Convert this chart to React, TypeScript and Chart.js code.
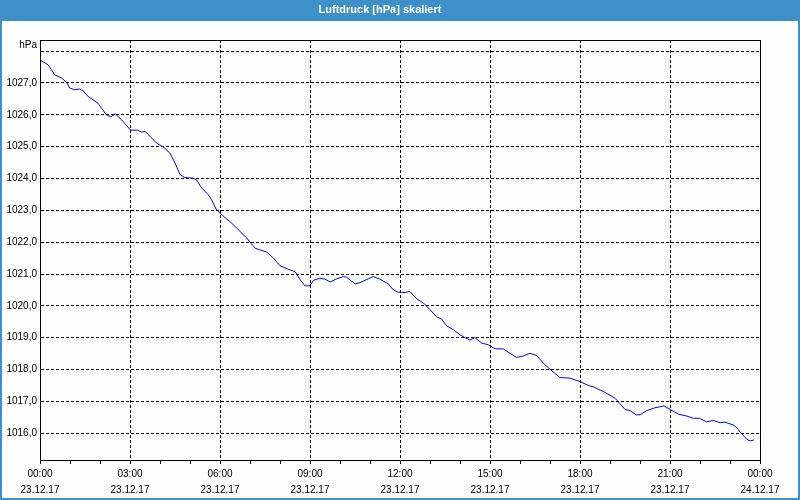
import React, { useEffect, useRef } from 'react';
import { Chart, registerables } from 'chart.js';

Chart.register(...registerables);

const chartTitle = 'Luftdruck [hPa] skaliert';
const yUnit = 'hPa';

// hours since 23.12.17 00:00
const timeHours = [
  0.02, 0.27, 0.49, 0.71, 0.88, 0.99, 1.16, 1.32, 1.43, 1.6, 1.93, 2.21, 2.36, 2.51, 2.71, 3.02, 3.24,
  3.39, 3.5, 3.67, 3.89, 4.11, 4.33, 4.5, 4.67, 4.83, 5.11, 5.22, 5.39, 5.61, 5.72, 5.87, 6.0, 6.22,
  6.33, 6.56, 6.89, 7.17, 7.33, 7.56, 7.78, 8.0, 8.33, 8.5, 8.67, 8.83, 9.0, 9.11, 9.33, 9.5, 9.67,
  9.89, 10.11, 10.22, 10.5, 10.67, 10.94, 11.11, 11.33, 11.61, 11.78, 11.94, 12.17, 12.33, 12.56,
  12.78, 13.0, 13.22, 13.39, 13.56, 13.78, 14.0, 14.17, 14.33, 14.5, 14.72, 14.94, 15.17, 15.44,
  15.67, 15.89, 16.11, 16.33, 16.56, 16.78, 17.0, 17.33, 17.67, 18.0, 18.31, 18.44, 18.78, 19.17,
  19.5, 19.67, 19.87, 20.0, 20.22, 20.5, 20.8, 21.0, 21.28, 21.56, 21.78, 21.98, 22.22, 22.44,
  22.67, 22.83, 23.11, 23.22, 23.39, 23.56, 23.67, 23.8,
];

const pressure = [
  1027.71, 1027.57, 1027.26, 1027.16, 1027.03, 1026.84, 1026.79, 1026.81, 1026.76, 1026.58, 1026.37,
  1026.0, 1025.94, 1026.03, 1025.85, 1025.52, 1025.52,
  1025.46, 1025.48, 1025.32, 1025.11, 1024.99, 1024.8, 1024.49, 1024.12, 1024.03, 1024.01, 1023.96,
  1023.7, 1023.49, 1023.33, 1023.04, 1022.91, 1022.73,
  1022.65, 1022.44, 1022.13, 1021.81, 1021.76, 1021.69, 1021.5, 1021.26, 1021.13, 1021.08, 1020.82,
  1020.63, 1020.63, 1020.8, 1020.87, 1020.84, 1020.75,
  1020.85, 1020.92, 1020.9, 1020.69, 1020.73, 1020.85, 1020.92, 1020.84, 1020.69, 1020.5, 1020.43,
  1020.42, 1020.45, 1020.22,
  1020.09, 1019.88, 1019.66, 1019.58, 1019.37, 1019.25, 1019.09, 1019.0, 1018.93, 1019.0, 1018.83,
  1018.78, 1018.65, 1018.65,
  1018.51, 1018.38, 1018.43, 1018.51, 1018.44, 1018.2, 1018.01, 1017.75, 1017.73, 1017.62, 1017.49,
  1017.46, 1017.31, 1017.1,
  1016.75, 1016.71, 1016.58, 1016.58, 1016.71, 1016.8, 1016.86, 1016.75, 1016.6, 1016.54, 1016.47,
  1016.47, 1016.36, 1016.4,
  1016.33, 1016.35, 1016.26, 1016.18, 1015.98, 1015.81, 1015.76, 1015.79,
];

const xTickHours = [0, 3, 6, 9, 12, 15, 18, 21, 24];
const xTickTimes = ['00:00', '03:00', '06:00', '09:00', '12:00', '15:00', '18:00', '21:00', '00:00'];
const xTickDates = ['23.12.17', '23.12.17', '23.12.17', '23.12.17', '23.12.17', '23.12.17', '23.12.17', '23.12.17', '24.12.17'];
const yMin = 1015.16;
const yMax = 1028.35;
const yUnlabeled = [1028];

const BLUE = '#3d90c8';
const FONT = "'Liberation Sans', Arial, sans-serif";

export default function App() {
  const ref = useRef<HTMLCanvasElement | null>(null);

  useEffect(() => {
    document.body.style.margin = '0';
    const canvas = ref.current;
    if (!canvas) return;

    const framePlugin = {
      id: 'frame',
      beforeDraw(chart: any) {
        const ctx = chart.ctx;
        ctx.save();
        ctx.fillStyle = '#fcfefc';
        ctx.fillRect(0, 0, chart.width, chart.height);
        ctx.fillStyle = BLUE;
        ctx.fillRect(0, 0, chart.width, 21);
        ctx.restore();
      },
      afterDraw(chart: any) {
        const ctx = chart.ctx;
        const a = chart.chartArea;
        ctx.save();
        ctx.strokeStyle = '#000';
        ctx.lineWidth = 1;
        ctx.setLineDash([]);
        ctx.beginPath();
        ctx.moveTo(Math.round(a.left) + 0.5, Math.round(a.top) + 0.5);
        ctx.lineTo(Math.round(a.right) + 0.5, Math.round(a.top) + 0.5);
        ctx.lineTo(Math.round(a.right) + 0.5, Math.round(a.bottom) + 0.5);
        ctx.stroke();
        // outer blue border
        ctx.fillStyle = BLUE;
        ctx.fillRect(0, 0, 2, chart.height);
        ctx.fillRect(chart.width - 2, 0, 2, chart.height);
        ctx.fillRect(0, chart.height - 2, chart.width, 2);
        // unit label
        ctx.fillStyle = '#000';
        ctx.font = `10px ${FONT}`;
        ctx.textAlign = 'right';
        ctx.textBaseline = 'middle';
        ctx.fillText(yUnit, Math.round(a.left) - 3, 45);
        ctx.restore();
      },
    };

    const chart = new Chart(canvas, {
      type: 'line',
      data: {
        datasets: [
          {
            label: chartTitle,
            data: timeHours.map((h, i) => ({ x: h, y: pressure[i] })),
            borderColor: '#0000ff',
            borderWidth: 1,
            pointRadius: 0,
            tension: 0,
            fill: false,
          },
        ],
      },
      options: {
        animation: false,
        responsive: false,
        layout: { padding: { left: 0, right: 40, top: 0, bottom: 0 } },
        plugins: {
          legend: { display: false },
          tooltip: { enabled: false },
          title: {
            display: true,
            text: chartTitle,
            color: '#ffffff',
            font: { family: FONT, size: 11, weight: 'bold', lineHeight: 1 },
            padding: { top: 4, bottom: 25 },
          },
        },
        scales: {
          x: {
            type: 'linear',
            min: 0,
            max: 24,
            afterFit(scale: any) {
              scale.height = 40;
            },
            ticks: {
              stepSize: 1,
              autoSkip: false,
              maxRotation: 0,
              minRotation: 0,
              color: '#000',
              padding: 2,
              font: { family: FONT, size: 10, lineHeight: 1.6 },
              callback(value: any) {
                const idx = xTickHours.indexOf(Number(value));
                return idx >= 0 ? [xTickTimes[idx], xTickDates[idx]] : '';
              },
            },
            grid: {
              color: (ctx: any) =>
                ctx.tick && xTickHours.includes(ctx.tick.value) ? '#000' : 'rgba(0,0,0,0)',
              tickColor: '#000',
              tickLength: 4,
              tickBorderDash: [],
              lineWidth: 1,
            },
            border: { display: true, color: '#000', width: 1, dash: [3, 2] },
          },
          y: {
            type: 'linear',
            min: yMin,
            max: yMax,
            afterFit(scale: any) {
              scale.width = 40;
            },
            ticks: {
              stepSize: 1,
              includeBounds: false,
              color: '#000',
              padding: 3,
              font: { family: FONT, size: 10 },
              callback(value: any) {
                const v = Number(value);
                if (yUnlabeled.includes(v)) return '';
                return v.toFixed(1).replace('.', ',');
              },
            },
            grid: {
              color: '#000',
              drawTicks: false,
              lineWidth: 1,
            },
            border: { display: true, color: '#000', width: 1, dash: [3, 2] },
          },
        },
      },
      plugins: [framePlugin],
    } as any);

    return () => chart.destroy();
  }, []);

  return (
    <div style={{ position: 'fixed', left: 0, top: 0, width: 800, height: 500 }}>
      <canvas ref={ref} width={800} height={500} />
    </div>
  );
}
